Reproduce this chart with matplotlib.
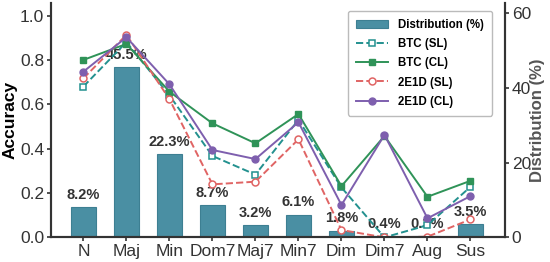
import numpy as np
import matplotlib.pyplot as plt

plt.rcParams['font.family'] = ['Liberation Sans', 'DejaVu Sans']

chords = ['N', 'Maj', 'Min', 'Dom7', 'Maj7', 'Min7', 'Dim', 'Dim7', 'Aug', 'Sus']
dist = [8.2, 45.5, 22.3, 8.7, 3.2, 6.1, 1.8, 0.4, 0.3, 3.5]
btc_sl = [0.68, 0.88, 0.64, 0.367, 0.283, 0.53, 0.225, 0.0, 0.055, 0.228]
btc_cl = [0.80, 0.872, 0.657, 0.514, 0.424, 0.556, 0.231, 0.457, 0.183, 0.255]
e1d_sl = [0.717, 0.913, 0.623, 0.239, 0.251, 0.442, 0.033, 0.0, 0.003, 0.081]
e1d_cl = [0.747, 0.902, 0.69, 0.394, 0.353, 0.519, 0.146, 0.462, 0.086, 0.186]

c_bar = '#4a8fa3'
c_teal = '#23918f'
c_green = '#2f9358'
c_red = '#e06464'
c_purple = '#7e5fae'
dark = '#333333'

fig = plt.figure(figsize=(5.5, 2.62), dpi=100)
ax = fig.add_axes([0.093, 0.094, 0.825, 0.895])
ax2 = ax.twinx()
x = np.arange(len(chords))

ax2.bar(x, dist, width=0.58, color=c_bar, edgecolor='#3d7f92', linewidth=0.8,
        label='Distribution (%)')
for xi, d in zip(x, dist):
    ax2.text(xi, d + 1.4, f'{d}%', ha='center', va='bottom', fontsize=10.5,
             fontweight='bold', color=dark)
ax2.set_ylim(0, 62.8)
ax2.set_yticks([0, 20, 40, 60])
ax2.set_ylabel('Distribution (%)', fontsize=12, fontweight='bold', color='#555555')
ax2.yaxis.set_label_coords(1.056, 0.5)

lw = 1.4
ms = 5
ax.plot(x, btc_sl, '--s', color=c_teal, lw=lw, ms=ms, mfc='white', mew=1.1, label='BTC (SL)')
ax.plot(x, btc_cl, '-s', color=c_green, lw=lw, ms=ms, label='BTC (CL)')
ax.plot(x, e1d_sl, '--o', color=c_red, lw=lw, ms=ms, mfc='white', mew=1.1, label='2E1D (SL)')
ax.plot(x, e1d_cl, '-o', color=c_purple, lw=lw, ms=ms, label='2E1D (CL)')

ax.set_zorder(ax2.get_zorder() + 1)
ax.patch.set_visible(False)

ax.set_xlim(-0.75, 9.8)
ax.set_ylim(0, 1.057)
ax.set_yticks([0, 0.2, 0.4, 0.6, 0.8, 1.0])
ax.set_xticks(x)
ax.set_xticklabels(chords)
ax.set_ylabel('Accuracy', fontsize=12.5, fontweight='bold', color='black')
ax.yaxis.set_label_coords(-0.074, 0.5)

for a in (ax, ax2):
    a.tick_params(labelsize=12.5, colors=dark, length=3, width=1.2, pad=2)
    a.spines['top'].set_visible(False)
    for s in ('left', 'right', 'bottom'):
        a.spines[s].set_color(dark)
        a.spines[s].set_linewidth(1.5)

h1, l1 = ax2.get_legend_handles_labels()
h2, l2 = ax.get_legend_handles_labels()
ax.legend(h1 + h2, l1 + l2, loc='upper right', bbox_to_anchor=(0.985, 0.99),
          prop={'weight': 'bold', 'size': 8.3}, framealpha=1, edgecolor='#bbbbbb',
          handlelength=2.8, borderpad=0.7, labelspacing=0.62, handletextpad=0.9)

fig.savefig('out.png', dpi=100)
